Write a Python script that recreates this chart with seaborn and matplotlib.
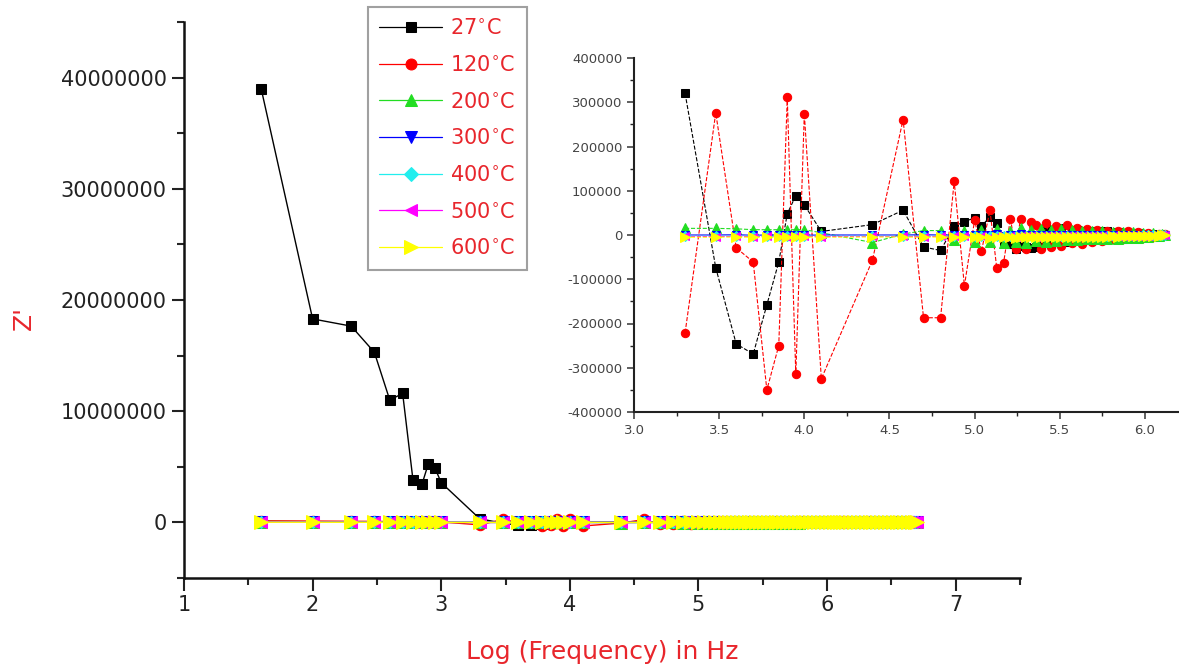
import matplotlib
matplotlib.use("Agg")
import matplotlib.pyplot as plt
import seaborn as sns
from matplotlib.ticker import MultipleLocator, FuncFormatter

# ---------------- data ----------------
temps = ["27", "120", "200", "300", "400", "500", "600"]

logf_low = [1.60, 2.00, 2.30, 2.48, 2.60, 2.70, 2.78, 2.85, 2.90, 2.95, 3.00]
logf_mid = [3.30, 3.48, 3.60, 3.70, 3.78, 3.85, 3.90, 3.95, 4.00, 4.10, 4.40,
            4.58, 4.70, 4.80, 4.88, 4.94, 5.00]
logf_hi = [5.04, 5.09, 5.13, 5.17, 5.21, 5.24, 5.27, 5.30, 5.33, 5.36, 5.39, 5.42,
           5.45, 5.48, 5.51, 5.54, 5.57, 5.60, 5.63, 5.66, 5.69, 5.72, 5.75, 5.78,
           5.81, 5.84, 5.87, 5.90, 5.93, 5.96, 5.99, 6.02, 6.05, 6.08, 6.10, 6.12]
logf_ext = [6.15, 6.18, 6.21, 6.24, 6.27, 6.30, 6.33, 6.36, 6.39, 6.42, 6.45, 6.48,
            6.51, 6.54, 6.57, 6.60, 6.63, 6.66, 6.68, 6.70]

z27_low = [39.0e6, 18.3e6, 17.65e6, 15.3e6, 11.0e6, 11.6e6, 3.85e6, 3.42e6, 5.28e6, 4.92e6, 3.57e6]
z27_mid = [320000, -74000, -246000, -269000, -158000, -61000, 48000, 89000, 68000, 8000,
           23500, 56000, -27000, -35000, 20000, 30000, 39000]
z27_hi = [20000, 41000, 28000, -15000, -20000, -31000, -25000, -28000, -30000, -28000, -22000,
          15000, -20000, -12000, 16000, -15000, 10000, 12000, -10000, 8000, -12000, 10000,
          -8000, 9000, -7000, 6000, -8000, 5000, -6000, 4000, -5000, 3000, -4000, 3000, -2000, 1000]

z120_low = [150000, 120000, 100000, 90000, 80000, 70000, 60000, 55000, 50000, 45000, 40000]
z120_mid = [-221000, 276000, -29000, -61000, -350000, -250000, 311000, -315000, 274000, -325000,
            -57000, 261000, -187000, -187000, 121000, -115000, 34000]
z120_hi = [-37000, 56000, -75000, -63000, 37000, -31000, 37000, -31000, 30000, 22000, -31000,
           26000, -28000, 20000, -24000, 22000, -18000, 15000, -20000, 14000, -15000, 12000,
           -14000, 10000, -10000, 9000, -8000, 8000, -7000, 6000, -6000, 5000, -4000, 3000, -3000, 2000]

z200_low = [80000, 60000, 50000, 40000, 35000, 30000, 28000, 25000, 22000, 20000, 18000]
z200_mid = [15000, 15000, 14000, 12000, 12000, 12000, 12000, 12000, 12000, 5000, -17000,
            2000, 10000, 10000, -12000, 10000, -15000]
z200_hi = [12000, -16000, 14000, -18000, 10000, -16000, 15000, -17000, 12000, -14000, 14000,
           -15000, 12000, -13000, 13000, -12000, 11000, -12000, 10000, -10000, 9000, -10000,
           8000, -9000, 7000, -8000, 6000, -7000, 6000, -6000, 5000, -4000, 4000, -3000, 2000, 1000]

z300_low = [30000, 20000, 15000, 12000, 10000, 9000, 8000, 7000, 6000, 5000, 5000]
z300_mid = [0, 0, 500, -500, 0, 0, 500, 0, -500, 0, 0, 0, 500, 0, 0, -500, 0]
z300_hi = [1000, -1000, 1500, -1500, 1000, -1000, 1200, -1200, 1000, -800, 900, -900,
           800, -800, 700, -700, 600, -600, 500, -500, 500, -400, 400, -400, 300, -300,
           300, -300, 200, -200, 200, -100, 100, -100, 0, 0]

z400_low = [25000, 18000, 14000, 11000, 9000, 8000, 7000, 6000, 5000, 4500, 4000]
z400_mid = [-2000, -2500, -2000, -2500, -2000, -2000, -2500, -2000, -2000, -2500, -2000,
            -2000, -2500, -2000, -2000, -2000, -2500]
z400_hi = [-2000, -3000, -1500, -2500, -2000, -3000, -1500, -2500, -2000, -2500, -1800, -2200,
           -2000, -2400, -1800, -2200, -1900, -2100, -1800, -2000, -1700, -1900, -1600, -1800,
           -1500, -1700, -1400, -1500, -1200, -1300, -1000, -1100, -800, -700, -500, -300]

z500_low = [20000, 15000, 12000, 10000, 8000, 7000, 6000, 5500, 5000, 4500, 4000]
z500_mid = [-3000, -3500, -3000, -3500, -3000, -3000, -3500, -3000, -3000, -3500, -3000,
            -3000, -3500, -3000, -3000, -3000, -3500]
z500_hi = [-3000, -3500, -2500, -3500, -3000, -3500, -2500, -3000, -3000, -3500, -2800, -3200,
           -3000, -3300, -2800, -3100, -2900, -3000, -2700, -2900, -2600, -2800, -2500, -2600,
           -2300, -2400, -2100, -2200, -1800, -1900, -1500, -1500, -1200, -1000, -700, -400]

z600_low = [15000, 12000, 10000, 8000, 7000, 6000, 5000, 4500, 4000, 3500, 3000]
z600_mid = [-5000, -5000, -4500, -5000, -4500, -5000, -4500, -5000, -4500, -5000, -4500,
            -4500, -5000, -4500, -5000, -4500, -5000]
z600_hi = [-5000, -6000, -4000, -5500, -4500, -6000, -4000, -5500, -4500, -5000, -4000, -5000,
           -4500, -5000, -4000, -4500, -4000, -4500, -3800, -4200, -3600, -4000, -3400, -3600,
           -3200, -3400, -3000, -3000, -2600, -2600, -2200, -2000, -1600, -1400, -1000, -600]

z_ext = [3000, -2500, 2000, -2000, 1500, -1500, 1200, -1200, 1000, -1000, 800, -800,
         600, -600, 500, -500, 400, -300, 200, 0]

series_low = [z27_low, z120_low, z200_low, z300_low, z400_low, z500_low, z600_low]
series_mid = [z27_mid, z120_mid, z200_mid, z300_mid, z400_mid, z500_mid, z600_mid]
series_hi = [z27_hi, z120_hi, z200_hi, z300_hi, z400_hi, z500_hi, z600_hi]

colors = ["#000000", "#ff0000", "#22dd22", "#0000ff", "#22eeee", "#ff00ff", "#ffff00"]
markers = ["s", "o", "^", "v", "D", "<", ">"]
main_ms = [7.5, 7.5, 8.5, 8.5, 6.5, 8.0, 9.5]
inset_ms = [6.0, 6.0, 6.5, 6.0, 5.0, 6.0, 6.5]
inset_styles = ["--", "--", "--", "-", "--", "--", "--"]

RED = "#e8262c"

# ---------------- figure ----------------
sns.set_style("ticks")
plt.rcParams['font.family'] = ['DejaVu Sans']

fig = plt.figure(figsize=(11.79, 6.68), dpi=100)
ax = fig.add_axes([184 / 1179, 90 / 668, 836 / 1179, 556 / 668])

for i, t in enumerate(temps):
    x = logf_low + logf_mid + logf_hi + logf_ext
    y = series_low[i] + series_mid[i] + series_hi[i] + z_ext
    sns.lineplot(x=x, y=y, ax=ax, color=colors[i], marker=markers[i], markersize=main_ms[i],
                 markeredgecolor=colors[i], linewidth=1.0, sort=False, estimator=None,
                 label=f"{t}$^{{\\circ}}$C", zorder=2 + i)

ax.set_xlim(1, 7.5)
ax.set_ylim(-5e6, 45e6)
ax.xaxis.set_major_locator(MultipleLocator(1))
ax.xaxis.set_minor_locator(MultipleLocator(0.5))
ax.yaxis.set_major_locator(MultipleLocator(1e7))
ax.yaxis.set_minor_locator(MultipleLocator(5e6))
ax.yaxis.set_major_formatter(FuncFormatter(lambda v, p: f"{int(round(v))}"))
ax.tick_params(which="major", direction="out", length=9, width=1.5, labelsize=15, colors="#222222")
ax.tick_params(which="minor", direction="out", length=5, width=1.5)
for s in ["top", "right"]:
    ax.spines[s].set_visible(False)
for s in ["left", "bottom"]:
    ax.spines[s].set_linewidth(1.8)
    ax.spines[s].set_color("#111111")

ax.set_xlabel("Log (Frequency) in Hz", color=RED, fontsize=18)
ax.xaxis.set_label_coords(0.5, -(640 - 578) / 556)
ax.set_ylabel("Z'", color=RED, fontsize=18)
ax.yaxis.set_label_coords((36 - 184) / 836, (578 - 318) / 556)

leg = ax.legend(loc="upper left", bbox_to_anchor=(368 / 1179, 1 - 7 / 668),
                bbox_transform=fig.transFigure, borderaxespad=0, fontsize=15,
                handlelength=3.0, handletextpad=0.4, labelspacing=0.8,
                frameon=True, fancybox=False, edgecolor="#888888", borderpad=0.55,
                markerscale=1.05)
leg.get_frame().set_linewidth(1.5)
for txt in leg.get_texts():
    txt.set_color(RED)
for h in leg.legend_handles:
    h.set_linewidth(0.9)

# ---------------- inset ----------------
axi = fig.add_axes([634 / 1179, (668 - 412) / 668, 545 / 1179, 354 / 668])
for i, t in enumerate(temps):
    x = logf_mid + logf_hi
    y = series_mid[i] + series_hi[i]
    sns.lineplot(x=x, y=y, ax=axi, color=colors[i], marker=markers[i], markersize=inset_ms[i],
                 markeredgecolor=colors[i], linewidth=0.8, linestyle=inset_styles[i],
                 sort=False, estimator=None, legend=False)

axi.set_xlim(3.0, 6.2)
axi.set_ylim(-400000, 400000)
axi.xaxis.set_major_locator(MultipleLocator(0.5))
axi.xaxis.set_minor_locator(MultipleLocator(0.25))
axi.yaxis.set_major_locator(MultipleLocator(100000))
axi.yaxis.set_minor_locator(MultipleLocator(50000))
axi.xaxis.set_major_formatter(FuncFormatter(lambda v, p: f"{v:.1f}"))
axi.yaxis.set_major_formatter(FuncFormatter(lambda v, p: f"{int(round(v))}"))
axi.tick_params(which="major", direction="out", length=5, width=1.2, labelsize=9.5, colors="#444444")
axi.tick_params(which="minor", direction="out", length=3, width=1.0)
axi.set_xlabel("")
axi.set_ylabel("")
axi.patch.set_alpha(0)
for s in ["top", "right"]:
    axi.spines[s].set_visible(False)
for s in ["left", "bottom"]:
    axi.spines[s].set_linewidth(1.5)
    axi.spines[s].set_color("#222222")

fig.savefig("out.png", dpi=100)
